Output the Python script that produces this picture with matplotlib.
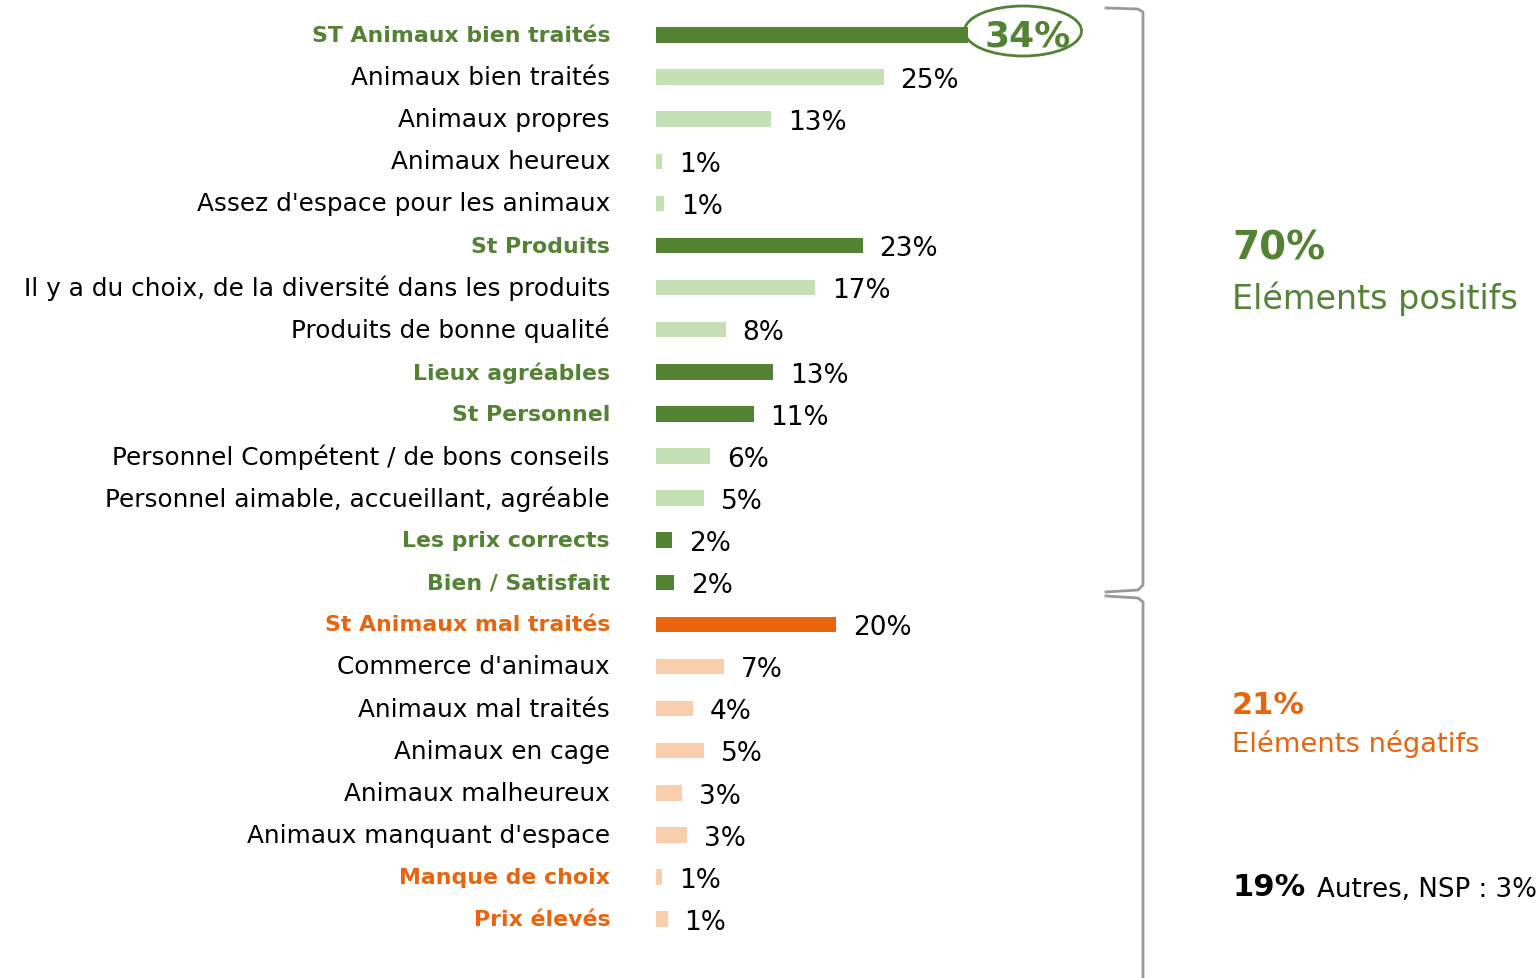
import matplotlib.pyplot as plt
from matplotlib.patches import Ellipse
from matplotlib.lines import Line2D

# data
labels = ["ST Animaux bien traités", "Animaux bien traités", "Animaux propres",
          "Animaux heureux", "Assez d'espace pour les animaux", "St Produits",
          "Il y a du choix, de la diversité dans les produits",
          "Produits de bonne qualité", "Lieux agréables", "St Personnel",
          "Personnel Compétent / de bons conseils",
          "Personnel aimable, accueillant, agréable", "Les prix corrects",
          "Bien / Satisfait", "St Animaux mal traités", "Commerce d'animaux",
          "Animaux mal traités", "Animaux en cage", "Animaux malheureux",
          "Animaux manquant d'espace", "Manque de choix", "Prix élevés"]
values = [34.1, 24.9, 12.6, 0.7, 0.9, 22.6, 17.4, 7.65, 12.8, 10.7, 5.9, 5.25,
          1.8, 2.0, 19.7, 7.4, 4.0, 5.25, 2.85, 3.4, 0.7, 1.3]
value_labels = ["34%", "25%", "13%", "1%", "1%", "23%", "17%", "8%", "13%",
                "11%", "6%", "5%", "2%", "2%", "20%", "7%", "4%", "5%", "3%",
                "3%", "1%", "1%"]
# group: 'pos'/'neg', bold: bold coloured label, dark: dark bar
group = ["pos"] * 14 + ["neg"] * 8
bold = [1, 0, 0, 0, 0, 1, 0, 0, 1, 1, 0, 0, 1, 1, 1, 0, 0, 0, 0, 0, 1, 1]
dark = [1, 0, 0, 0, 0, 1, 0, 0, 1, 1, 0, 0, 1, 1, 1, 0, 0, 0, 0, 0, 0, 0]

green = "#548235"
lightgreen = "#c5e0b4"
orange = "#e8650e"
lightorange = "#f8cead"

W, H = 1540, 979
plt.rcParams['font.family'] = ['DejaVu Sans']

fig = plt.figure(figsize=(W / 100, H / 100), dpi=100)
scale = 9.15   # px per percent
row = 42.1     # px per row
ax = fig.add_axes([656 / W, 0, (W - 656) / W, 1])
ax.set_xlim(0, (W - 656) / scale)
ax.set_ylim((H - 36) / row, -36 / row)
ax.axis('off')

def px(x, y):
    return x / W, 1 - y / H

for i, (lab, v, vl) in enumerate(zip(labels, values, value_labels)):
    if group[i] == "pos":
        c = green if dark[i] else lightgreen
        tc = green
    else:
        c = orange if dark[i] else lightorange
        tc = orange
    ax.barh(i, v, height=0.37, color=c)
    if bold[i]:
        ax.text(-46 / scale, i, lab, ha='right', va='center', fontsize=15.8,
                color=tc, fontweight='bold')
    else:
        ax.text(-46 / scale, i, lab, ha='right', va='center', fontsize=17.8,
                color='black')
    if i == 0:
        ax.annotate(vl, (v, i), xytext=(12, 0), textcoords='offset points',
                    va='center', ha='left', fontsize=26, fontweight='bold',
                    color=green)
    else:
        ax.annotate(vl, (v, i), xytext=(12, -2), textcoords='offset points',
                    va='center', ha='left', fontsize=19, color='black')

# ellipse around the top value
ex, ey = px(1023, 32)
fig.add_artist(Ellipse((ex, ey), 117 / W, 50 / H, transform=fig.transFigure,
                       fill=False, ec=green, lw=2))

# braces
def brace(pts):
    xs, ys = zip(*[px(x, y) for x, y in pts])
    fig.add_artist(Line2D(xs, ys, transform=fig.transFigure, color='#999999', lw=2))

brace([(1106, 9), (1138, 10), (1143, 13), (1143, 586), (1138, 591), (1106, 593)])
brace([(1106, 597), (1138, 599), (1143, 603), (1143, 979)])

# summary texts
fig.text(*px(1232, 249), "70%", fontsize=28, fontweight='bold', color=green, va='center')
fig.text(*px(1232, 299), "Eléments positifs", fontsize=24, color=green, va='center')
fig.text(*px(1232, 705), "21%", fontsize=22, fontweight='bold', color=orange, va='center')
fig.text(*px(1232, 744), "Eléments négatifs", fontsize=19.7, color=orange, va='center')
fig.text(*px(1232, 888), "19%", fontsize=22, fontweight='bold', color='black', va='center')
fig.text(*px(1317, 890), "Autres, NSP : 3%", fontsize=18.8, color='black', va='center')

fig.savefig("out.png", dpi=100)
